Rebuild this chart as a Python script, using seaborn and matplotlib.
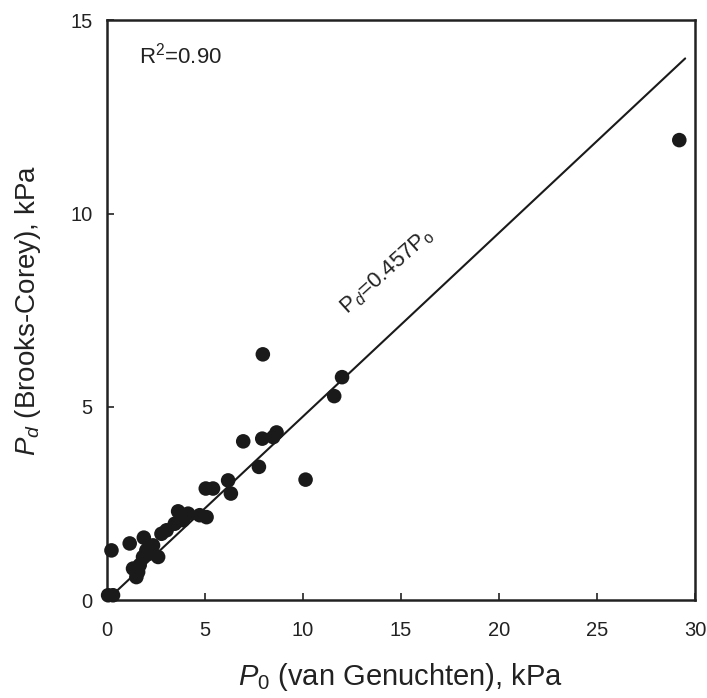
import matplotlib
matplotlib.use("Agg")
import matplotlib.pyplot as plt
import seaborn as sns
import numpy as np
import pandas as pd

# Data
p0 = [6.96, 7.93, 8.49, 8.66, 7.76, 10.14, 6.19, 6.33, 5.05, 5.42, 5.09, 4.74, 4.15, 3.64,
      3.89, 3.47, 3.05, 2.79, 0.24, 1.17, 1.89, 2.36, 2.02, 2.62, 1.85, 1.34, 1.60, 1.51,
      0.07, 0.32, 1.68, 2.19, 29.2, 7.96, 12.0, 11.6]
pd_bc = [4.11, 4.18, 4.22, 4.34, 3.45, 3.12, 3.10, 2.76, 2.89, 2.89, 2.15, 2.20, 2.24, 2.30,
         2.07, 1.98, 1.81, 1.72, 1.29, 1.47, 1.62, 1.42, 1.29, 1.12, 1.12, 0.82, 0.73, 0.60,
         0.13, 0.13, 0.91, 1.21, 11.9, 6.36, 5.77, 5.28]
fit_x = [0.0, 29.5]
fit_slope = 0.475
xticks = [0, 5, 10, 15, 20, 25, 30]
yticks = [0, 5, 10, 15]

sns.set_theme(style="ticks")
plt.rcParams['font.family'] = ['Liberation Sans', 'DejaVu Sans']
plt.rcParams['mathtext.fontset'] = 'custom'
plt.rcParams['mathtext.rm'] = 'Liberation Sans'
plt.rcParams['mathtext.it'] = 'Liberation Sans:italic'
plt.rcParams['mathtext.bf'] = 'Liberation Sans:bold'

fig = plt.figure(figsize=(7.07, 6.98), dpi=100)
ax = fig.add_axes([0.151, 0.140, 0.832, 0.831])

df = pd.DataFrame({"P0": p0, "Pd": pd_bc})
sns.scatterplot(data=df, x="P0", y="Pd", ax=ax, color="#1a1a1a", s=110,
                edgecolor="none", clip_on=False, zorder=3)
fx = np.array(fit_x)
sns.lineplot(x=fx, y=fit_slope * fx, ax=ax, color="#1a1a1a", lw=1.5)

ax.set_xlim(0, 30)
ax.set_ylim(0, 15)
ax.set_xticks(xticks)
ax.set_yticks(yticks)
ax.tick_params(direction="in", length=5, width=1.2, labelsize=14.5, colors="#222222")
ax.tick_params(axis="x", pad=15)
ax.tick_params(axis="y", pad=10)
for s in ax.spines.values():
    s.set_linewidth(1.8)
    s.set_color("#222222")

ax.set_xlabel(r"$P_0$ (van Genuchten), kPa", fontsize=21, color="#222222", labelpad=15)
ax.set_ylabel(r"$P_d$ (Brooks-Corey), kPa", fontsize=20, color="#222222", labelpad=20)

ax.text(0.055, 0.925, r"R$^2$=0.90", transform=ax.transAxes, fontsize=16, color="#222222")
ax.text(14.3, 8.5, r"P$_{d}$=0.457P$_{\mathrm{o}}$", rotation=42, fontsize=16,
        color="#222222", ha="center", va="center")

fig.savefig("out.png", dpi=100)
